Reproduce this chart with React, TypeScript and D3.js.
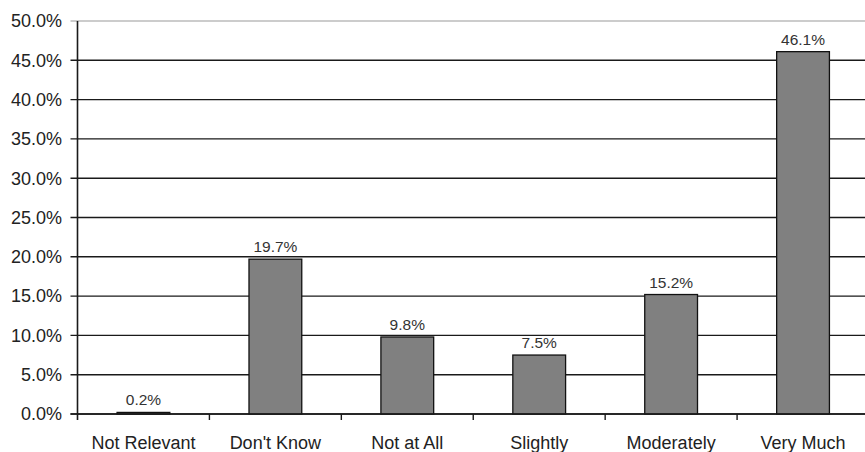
import React from "react";
import * as d3 from "d3";

const categories = ["Not Relevant", "Don't Know", "Not at All", "Slightly", "Moderately", "Very Much"];
const values = [0.2, 19.7, 9.8, 7.5, 15.2, 46.1];
const yTicks = [0, 5, 10, 15, 20, 25, 30, 35, 40, 45, 50];

export default function App() {
  const W = 865, H = 452;
  const left = 77.5, right = 869, top = 21, bottom = 414;
  const x = d3.scaleBand<string>().domain(categories).range([left, right]).paddingInner(0).paddingOuter(0);
  const y = d3.scaleLinear().domain([0, 50]).range([bottom, top]);
  const bw = x.bandwidth() * 0.4;
  const font = "Liberation Sans, Arial, sans-serif";
  return (
    <svg width={W} height={H} style={{ position: "absolute", left: 0, top: 0, background: "#fff" }} fontFamily={font}>
      {yTicks.map((t) => (
        <g key={t}>
          <line x1={left - 7} x2={right} y1={y(t)} y2={y(t)}
            stroke={t === 50 ? "#9a9a9a" : "#1a1a1a"} strokeWidth={t === 50 ? 1.2 : 1.4} />
          <text x={62} y={y(t)} dy="0.35em" textAnchor="end" fontSize={18} fill="#222">{t.toFixed(1)}%</text>
        </g>
      ))}
      {categories.map((c, i) => {
        const v = values[i];
        const cx = (x(c) as number) + x.bandwidth() / 2;
        return (
          <g key={c}>
            <rect x={cx - bw / 2} y={y(v)} width={bw} height={bottom - y(v)} fill="#808080" stroke="#111" strokeWidth={1.3} />
            <text x={cx} y={y(v) - 7} textAnchor="middle" fontSize={15.5} fill="#333">{v.toFixed(1)}%</text>
            <text x={cx} y={449} textAnchor="middle" fontSize={18} fill="#222">{c}</text>
            {i > 0 && <line x1={x(c) as number} x2={x(c) as number} y1={bottom} y2={bottom + 6} stroke="#1a1a1a" strokeWidth={1.4} />}
          </g>
        );
      })}
      <line x1={left} x2={left} y1={top} y2={bottom + 6} stroke="#1a1a1a" strokeWidth={1.6} />
      <line x1={left - 7} x2={right} y1={bottom} y2={bottom} stroke="#1a1a1a" strokeWidth={1.6} />
    </svg>
  );
}
